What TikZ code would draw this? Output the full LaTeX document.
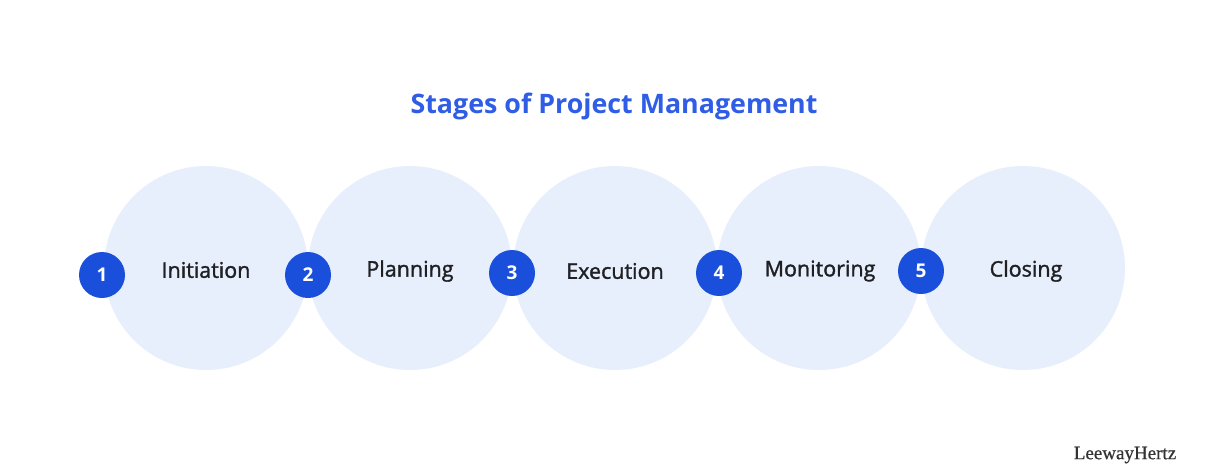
\documentclass[tikz,border=0pt]{standalone}
\usepackage{fontspec}
\setmainfont{Open Sans}
\newfontfamily\labelfont{Open Sans}[FakeBold=1.5]
\newfontfamily\logofont{Liberation Serif}[FakeBold=0.6]
\definecolor{circfill}{HTML}{E8EFFC}
\definecolor{badgeblue}{HTML}{1A4FDC}
\definecolor{titleblue}{HTML}{2F5DE6}
\definecolor{labeltext}{HTML}{1F2024}
\definecolor{logotext}{HTML}{333333}
\tikzset{
  stage/.style={circle, fill=circfill, draw=none, minimum size=204pt, inner sep=0pt},
  badge/.style={circle, fill=badgeblue, draw=none, minimum size=46pt, inner sep=0pt,
    text=white, font=\fontsize{19}{21}\selectfont\bfseries},
  stagelabel/.style={text=labeltext, font=\labelfont\fontsize{21.5}{23}\selectfont, inner sep=0pt},
  titletext/.style={text=titleblue, font=\fontsize{26.8}{29}\selectfont\bfseries, inner sep=0pt},
  logo/.style={text=logotext, font=\logofont\fontsize{19}{21}\selectfont, inner sep=0pt}
}
\begin{document}
\begin{tikzpicture}[x=1pt,y=-1pt]
\useasboundingbox (0,0) rectangle (1206,475);
\fill[white] (0,0) rectangle (1206,475);
\node[titletext] (title) at (614,106) {Stages of Project Management};
\node[stage] (c1) at (206,268) {};
\node[stage] (c2) at (410,268) {};
\node[stage] (c3) at (615,268) {};
\node[stage] (c4) at (819,268) {};
\node[stage] (c5) at (1023,268) {};
\node[stagelabel] (l1) at (206,270) {Initiation};
\node[stagelabel] (l2) at (410,271) {Planning};
\node[stagelabel] (l3) at (615,271) {Execution};
\node[stagelabel] (l4) at (820,271) {Monitoring};
\node[stagelabel] (l5) at (1026,271) {Closing};
\node[badge] (b1) at (102,275) {1};
\node[badge] (b2) at (308,275) {2};
\node[badge] (b3) at (512,273) {3};
\node[badge] (b4) at (719,273) {4};
\node[badge] (b5) at (921,271) {5};
\node[logo] (logo) at (1125,455) {LeewayHertz};
\end{tikzpicture}
\end{document}
